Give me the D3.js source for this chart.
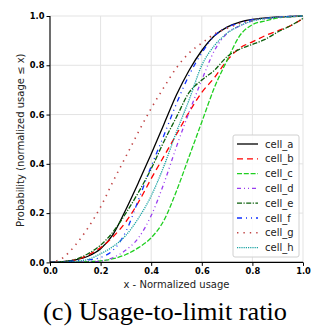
<!DOCTYPE html>
<html>
<head>
<meta charset="utf-8">
<script src="https://cdn.jsdelivr.net/npm/d3@7"></script>
<style>
  body { margin: 0; background: #fff; }
  svg { display: block; }
</style>
</head>
<body>
<svg id="drawing_region"></svg>
<script>
// x grid of the CDF curves
const xs = [0, 0.05, 0.1, 0.15, 0.2, 0.25, 0.3, 0.35, 0.4, 0.45, 0.5, 0.55, 0.6, 0.65, 0.7, 0.75, 0.8, 0.85, 0.9, 0.95, 1.0];

const cellA = [0, 0.003, 0.01, 0.025, 0.055, 0.115, 0.215, 0.325, 0.44, 0.56, 0.68, 0.78, 0.86, 0.92, 0.955, 0.975, 0.986, 0.992, 0.996, 0.998, 1];
const cellB = [0, 0.002, 0.01, 0.03, 0.06, 0.105, 0.165, 0.245, 0.34, 0.43, 0.52, 0.61, 0.69, 0.75, 0.82, 0.87, 0.895, 0.92, 0.94, 0.96, 0.99];
const cellC = [0, 0, 0.001, 0.003, 0.006, 0.015, 0.032, 0.06, 0.1, 0.17, 0.29, 0.43, 0.57, 0.71, 0.82, 0.92, 0.965, 0.98, 0.992, 0.997, 1];
const cellD = [0, 0, 0.001, 0.002, 0.005, 0.02, 0.05, 0.1, 0.19, 0.32, 0.47, 0.61, 0.74, 0.86, 0.93, 0.96, 0.98, 0.99, 0.995, 0.998, 1];
const cellE = [0, 0.003, 0.012, 0.035, 0.07, 0.125, 0.2, 0.285, 0.38, 0.49, 0.59, 0.69, 0.74, 0.78, 0.835, 0.865, 0.885, 0.905, 0.935, 0.96, 0.99];
const cellF = [0, 0.002, 0.006, 0.01, 0.02, 0.05, 0.125, 0.255, 0.39, 0.515, 0.645, 0.76, 0.85, 0.92, 0.955, 0.97, 0.985, 0.99, 0.996, 0.998, 1];
const cellG = [0, 0.018, 0.07, 0.14, 0.225, 0.33, 0.43, 0.53, 0.625, 0.71, 0.79, 0.85, 0.89, 0.927, 0.95, 0.97, 0.982, 0.99, 0.995, 0.998, 1];
const cellH = [0, 0.001, 0.004, 0.012, 0.035, 0.065, 0.11, 0.18, 0.27, 0.39, 0.53, 0.66, 0.8, 0.88, 0.93, 0.96, 0.98, 0.99, 0.995, 0.998, 1];

const names = ["cell_a", "cell_b", "cell_c", "cell_d", "cell_e", "cell_f", "cell_g", "cell_h"];
const values = [cellA, cellB, cellC, cellD, cellE, cellF, cellG, cellH];
const colors = ["#000000", "#ff0000", "#1fcf1f", "#9a3df0", "#0b5f0b", "#1030ff", "#c04545", "#1aa3a3"];
const dashes = ["none", "6,4", "5,1.8", "4,3,1,3,1,3", "5,1.5,1.2,1.5", "5,4,1,4,1,4", "1.4,5", "1.2,1"];

const ticks = [0, 0.2, 0.4, 0.6, 0.8, 1.0];

const config = {
    width: 325,
    height: 330,
    margin: {top: 16, left: 50, plotW: 253, plotH: 246.4}
};

const svg = d3.select("#drawing_region")
    .attr("width", config.width)
    .attr("height", config.height);

const m = config.margin;
const chart = svg.append("g").attr("transform", `translate(${m.left},${m.top})`);

const xScale = d3.scaleLinear().domain([0, 1]).range([0, m.plotW]);
const yScale = d3.scaleLinear().domain([0, 1]).range([m.plotH, 0]);

// grid
chart.append("g").selectAll("line").data(ticks).join("line")
    .attr("x1", d => xScale(d)).attr("x2", d => xScale(d))
    .attr("y1", 0).attr("y2", m.plotH)
    .attr("stroke", "#e3e3e3").attr("stroke-width", 1);
chart.append("g").selectAll("line").data(ticks).join("line")
    .attr("x1", 0).attr("x2", m.plotW)
    .attr("y1", d => yScale(d)).attr("y2", d => yScale(d))
    .attr("stroke", "#e3e3e3").attr("stroke-width", 1);

// curves
const line = d3.line()
    .x((d, i) => xScale(xs[i]))
    .y(d => yScale(d))
    .curve(d3.curveMonotoneX);

chart.append("g").selectAll("path").data(values).join("path")
    .attr("d", d => line(d))
    .attr("fill", "none")
    .attr("stroke", (d, i) => colors[i])
    .attr("stroke-width", (d, i) => i === 6 ? 1.6 : 1.3)
    .attr("stroke-dasharray", (d, i) => dashes[i]);

// axes
const xAxis = d3.axisBottom(xScale).tickValues(ticks).tickFormat(d3.format(".1f")).tickSize(3.5).tickPadding(2);
const yAxis = d3.axisLeft(yScale).tickValues(ticks).tickFormat(d3.format(".1f")).tickSize(3.5).tickPadding(2);

const gx = chart.append("g").attr("transform", `translate(0,${m.plotH})`).call(xAxis);
const gy = chart.append("g").call(yAxis);
[gx, gy].forEach(g => {
    g.select(".domain").attr("stroke", "#000").attr("stroke-width", 1.1);
    g.selectAll(".tick line").attr("stroke", "#000");
    g.selectAll(".tick text")
        .attr("fill", "#000")
        .style("font-family", "'DejaVu Sans', sans-serif")
        .style("font-size", "8.3px")
        .style("font-weight", "bold");
});
// strip the outer tick stubs on domain ends
gx.select(".domain").attr("d", `M0,0H${m.plotW}`);
gy.select(".domain").attr("d", `M0,${m.plotH}V0`);

// axis labels
svg.append("text")
    .attr("x", m.left + m.plotW / 2)
    .attr("y", 288)
    .attr("text-anchor", "middle")
    .style("font-family", "'DejaVu Sans', sans-serif")
    .style("font-size", "10px")
    .attr("fill", "#222")
    .text("x - Normalized usage");

svg.append("text")
    .attr("transform", `translate(24,${m.top + m.plotH / 2 + 1}) rotate(-90)`)
    .attr("text-anchor", "middle")
    .style("font-family", "'DejaVu Sans', sans-serif")
    .style("font-size", "10px")
    .attr("fill", "#222")
    .text("Probability (normalized usage \u2264 x)");

// legend
const legend = svg.append("g").attr("transform", "translate(233,135)");
legend.append("rect")
    .attr("x", 0).attr("y", 0)
    .attr("width", 66).attr("height", 122)
    .attr("rx", 2)
    .attr("fill", "#fff").attr("fill-opacity", 0.85)
    .attr("stroke", "#d0d0d0");

const item = legend.selectAll("g.item").data(names).join("g")
    .attr("class", "item")
    .attr("transform", (d, i) => `translate(0,${9 + i * 14.8})`);
item.append("line")
    .attr("x1", 4).attr("x2", 25)
    .attr("y1", 0).attr("y2", 0)
    .attr("stroke", (d, i) => colors[i])
    .attr("stroke-width", (d, i) => i === 6 ? 1.6 : 1.3)
    .attr("stroke-dasharray", (d, i) => dashes[i]);
item.append("text")
    .attr("x", 32).attr("y", 3.5)
    .style("font-family", "'DejaVu Sans', sans-serif")
    .style("font-size", "10px")
    .attr("fill", "#222")
    .text(d => d);

// caption
svg.append("text")
    .attr("x", 165)
    .attr("y", 320)
    .attr("text-anchor", "middle")
    .attr("textLength", 244)
    .attr("lengthAdjust", "spacingAndGlyphs")
    .style("font-family", "'Liberation Serif', serif")
    .style("font-size", "25px")
    .attr("fill", "#000")
    .text("(c) Usage-to-limit ratio");
</script>
</body>
</html>
